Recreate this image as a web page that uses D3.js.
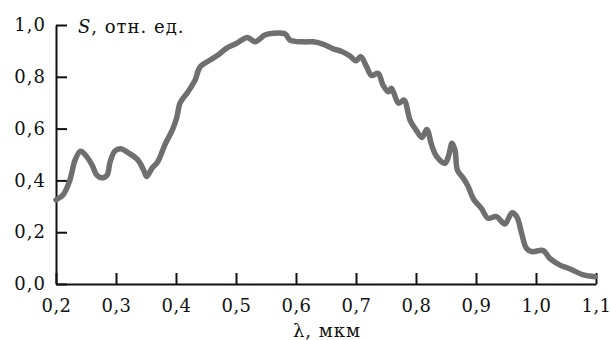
<!DOCTYPE html>
<html>
<head>
<meta charset="utf-8">
<script src="https://cdn.jsdelivr.net/npm/d3@7"></script>
<style>
  body { margin: 0; background: #fff; }
  text { font-family: "DejaVu Serif", serif; fill: #111; letter-spacing: 1px; }
</style>
</head>
<body>
<div id="chart"></div>
<script>
"use strict";

// spectral sensitivity
var lambda = [0.200, 0.212, 0.223, 0.232, 0.241, 0.250, 0.260, 0.268, 0.276, 0.285,
  0.290, 0.298, 0.308, 0.318, 0.336, 0.346, 0.351, 0.360, 0.369, 0.382,
  0.394, 0.401, 0.407, 0.420, 0.432, 0.440, 0.457, 0.470, 0.484, 0.501,
  0.519, 0.532, 0.548, 0.562, 0.582, 0.590, 0.612, 0.629, 0.646, 0.662,
  0.676, 0.690, 0.700, 0.708, 0.717, 0.726, 0.737, 0.745, 0.754, 0.759,
  0.771, 0.780, 0.790, 0.800, 0.810, 0.818, 0.826, 0.834, 0.848, 0.854,
  0.860, 0.865, 0.869, 0.879, 0.887, 0.896, 0.909, 0.920, 0.934, 0.948,
  0.960, 0.968, 0.976, 0.984, 0.993, 1.012, 1.023, 1.040, 1.057, 1.079, 1.098];
var sens = [0.325, 0.345, 0.400, 0.480, 0.513, 0.495, 0.460, 0.420, 0.410, 0.420,
  0.470, 0.513, 0.522, 0.510, 0.480, 0.440, 0.415, 0.447, 0.470, 0.540,
  0.595, 0.640, 0.700, 0.742, 0.788, 0.838, 0.865, 0.884, 0.910, 0.929,
  0.952, 0.935, 0.961, 0.968, 0.965, 0.942, 0.935, 0.935, 0.925, 0.908,
  0.898, 0.880, 0.862, 0.878, 0.842, 0.805, 0.813, 0.768, 0.742, 0.756,
  0.698, 0.710, 0.633, 0.595, 0.566, 0.597, 0.537, 0.494, 0.466, 0.492,
  0.543, 0.517, 0.440, 0.408, 0.376, 0.327, 0.292, 0.254, 0.260, 0.232,
  0.275, 0.260, 0.196, 0.138, 0.125, 0.129, 0.099, 0.073, 0.058, 0.035, 0.028];

var xTicks = [0.2, 0.3, 0.4, 0.5, 0.6, 0.7, 0.8, 0.9, 1.0, 1.1];
var xTickLabels = ["0,2", "0,3", "0,4", "0,5", "0,6", "0,7", "0,8", "0,9", "1,0", "1,1"];
var yTicks = [0, 0.2, 0.4, 0.6, 0.8, 1.0];
var yTickLabels = ["0,0", "0,2", "0,4", "0,6", "0,8", "1,0"];

var margin = { top: 25, right: 15, bottom: 56, left: 56 };
var width = 611 - margin.left - margin.right;
var height = 340 - margin.top - margin.bottom;

var svg = d3.select("#chart").append("svg")
  .attr("width", 611).attr("height", 340)
  .append("g")
  .attr("transform", "translate(" + margin.left + "," + margin.top + ")");

var xScale = d3.scaleLinear().domain([0.2, 1.1]).range([0, width]);
var yScale = d3.scaleLinear().domain([0, 1.0]).range([height, 0]);

var xAxis = d3.axisBottom(xScale)
  .tickValues(xTicks)
  .tickFormat(function (d, i) { return xTickLabels[i]; })
  .tickSizeInner(-11).tickSizeOuter(0).tickPadding(15);

var yAxis = d3.axisLeft(yScale)
  .tickValues(yTicks)
  .tickFormat(function (d, i) { return yTickLabels[i]; })
  .tickSizeInner(-11).tickSizeOuter(0).tickPadding(10);

var gx = svg.append("g").attr("transform", "translate(0," + height + ")").call(xAxis);
var gy = svg.append("g").call(yAxis);

[gx, gy].forEach(function (g) {
  g.selectAll("path, line").attr("stroke", "#111").attr("stroke-width", 2);
  g.selectAll("text").style("font-family", "DejaVu Serif, serif").style("font-size", "18px").attr("fill", "#111");
});
// x tick labels without extra spacing so "1,1" stays inside the frame
gx.selectAll("text").style("letter-spacing", "0.5px");

var pts = lambda.map(function (l, i) { return [l, sens[i]]; });

var line = d3.line()
  .x(function (d) { return xScale(d[0]); })
  .y(function (d) { return yScale(d[1]); })
  .curve(d3.curveCatmullRom.alpha(0.5));

svg.append("path").datum(pts)
  .attr("fill", "none")
  .attr("stroke", "#6f6f6f")
  .attr("stroke-width", 5.5)
  .attr("stroke-linejoin", "round")
  .attr("stroke-linecap", "round")
  .attr("d", line);

// axis titles
var yLab = svg.append("text")
  .attr("x", 22).attr("y", 8)
  .style("font-size", "18px");
yLab.append("tspan").style("font-style", "italic").text("S");
yLab.append("tspan").text(", отн. ед.");

svg.append("text")
  .attr("text-anchor", "middle")
  .attr("x", 271).attr("y", height + 53)
  .style("font-size", "18px")
  .text("λ, мкм");
</script>
</body>
</html>
